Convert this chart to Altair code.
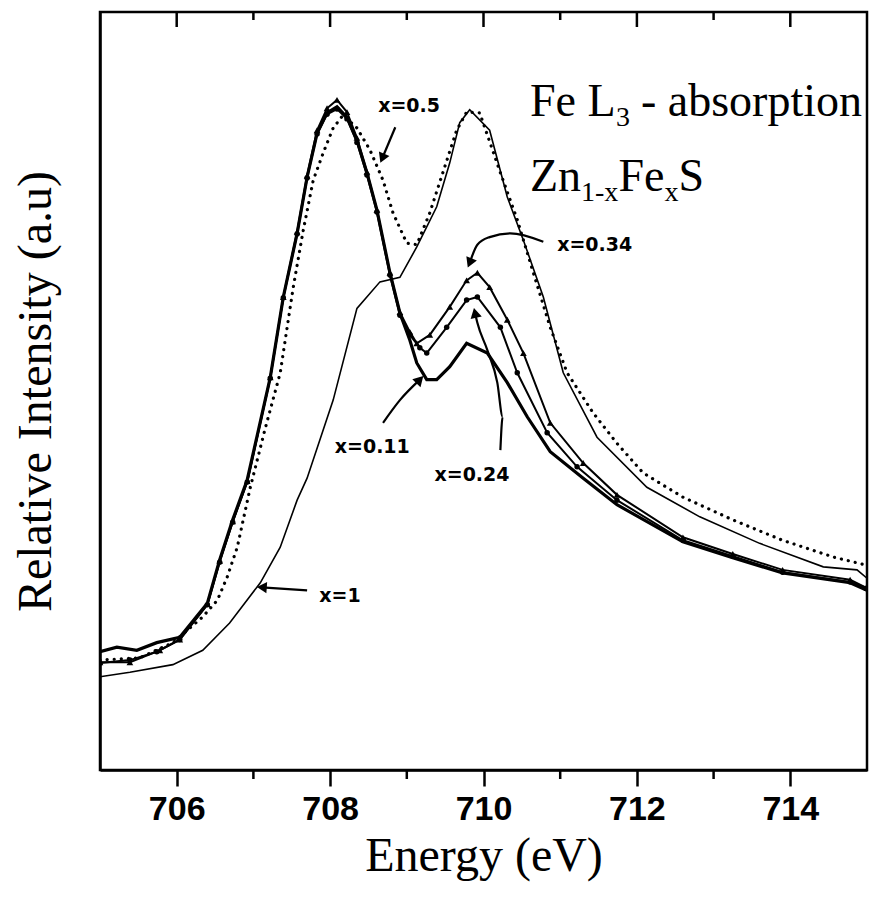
import math
import altair as alt
import pandas as pd

# ---------------- data ----------------
E_X1 = [705.0, 705.39, 705.95, 706.34, 706.69, 707.09, 707.35, 707.57, 707.70, 708.04,
        708.35, 708.65, 708.91, 709.13, 709.39, 709.56, 709.69, 709.82, 710.08, 710.31,
        710.52, 710.78, 711.04, 711.48, 712.13, 712.82, 713.60, 714.43, 714.87, 715.0]
I_X1 = [12.3, 12.9, 13.9, 15.8, 19.4, 24.7, 29.4, 35.6, 38.5, 48.8,
        60.9, 64.4, 65.0, 69.0, 74.3, 80.1, 85.4, 87.1, 84.4, 75.6,
        69.9, 62.4, 52.4, 43.9, 37.3, 33.4, 29.9, 26.8, 26.4, 25.3]

E_X05 = [705.0, 705.52, 705.95, 706.34, 706.53, 706.66, 706.79, 706.96, 707.15, 707.35,
         707.52, 707.65, 707.78, 707.91, 708.04, 708.17, 708.35, 708.52, 708.69, 708.82,
         709.00, 709.13, 709.30, 709.47, 709.65, 709.78, 709.95, 710.22, 710.44, 710.65,
         710.87, 711.09, 711.43, 711.74, 712.08, 712.60, 713.25, 713.90, 714.56, 715.0]
I_X05 = [14.5, 14.8, 16.8, 20.2, 22.4, 25.5, 29.4, 37.3, 44.9, 52.4,
         63.7, 71.2, 77.8, 81.4, 84.7, 86.4, 84.7, 81.8, 77.8, 73.5,
         69.5, 69.3, 73.5, 78.8, 84.4, 86.8, 86.7, 78.8, 72.6, 65.6,
         58.4, 52.4, 47.1, 43.1, 39.2, 36.0, 33.0, 30.3, 28.1, 27.0]

E_X011 = [705.0, 705.22, 705.48, 705.74, 706.04, 706.40, 706.56, 706.73, 706.92, 707.22,
          707.39, 707.57, 707.70, 707.83, 707.96, 708.09, 708.22, 708.35, 708.48, 708.61,
          708.78, 708.91, 709.04, 709.13, 709.26, 709.39, 709.56, 709.78, 710.05, 710.31,
          710.57, 710.87, 711.30, 711.74, 712.60, 713.25, 713.90, 714.78, 715.0]
I_X011 = [15.6, 16.2, 15.8, 16.8, 17.5, 22.0, 27.7, 33.0, 38.3, 51.8,
          62.4, 70.8, 78.2, 84.0, 86.7, 87.5, 86.1, 83.1, 78.8, 73.9,
          65.6, 60.3, 56.7, 53.7, 51.5, 51.5, 53.2, 56.3, 55.0, 51.1,
          46.6, 42.0, 38.5, 35.0, 30.1, 28.0, 26.0, 24.7, 23.7]

E_X024 = [705.0, 705.39, 705.74, 706.04, 706.40, 706.56, 706.73, 706.92, 707.22, 707.39,
          707.57, 707.70, 707.83, 707.96, 708.09, 708.22, 708.35, 708.48, 708.61, 708.78,
          708.91, 709.04, 709.17, 709.26, 709.52, 709.78, 709.92, 710.22, 710.44, 710.83,
          711.22, 711.74, 712.60, 713.25, 713.90, 714.78, 715.0]
I_X024 = [14.1, 14.5, 15.6, 17.2, 21.8, 27.4, 32.7, 38.0, 51.7, 62.3,
          70.7, 78.1, 83.9, 86.5, 87.2, 85.9, 82.8, 78.5, 73.6, 65.3,
          60.0, 57.4, 55.7, 55.0, 58.4, 62.0, 62.4, 58.4, 52.4, 44.5,
          40.0, 35.6, 30.3, 28.2, 26.1, 24.8, 24.0]

E_X034 = [705.0, 705.39, 705.78, 706.04, 706.40, 706.56, 706.73, 706.92, 707.22, 707.39,
          707.57, 707.70, 707.83, 707.96, 708.09, 708.22, 708.35, 708.48, 708.61, 708.78,
          708.91, 709.04, 709.13, 709.30, 709.56, 709.78, 709.92, 710.08, 710.31, 710.52,
          710.87, 711.30, 711.74, 712.60, 713.25, 713.90, 714.78, 715.0]
I_X034 = [14.2, 14.2, 15.8, 17.2, 21.9, 27.6, 32.8, 38.1, 51.8, 62.4,
          71.0, 78.4, 84.4, 87.3, 88.4, 86.8, 83.4, 78.9, 73.9, 65.6,
          60.4, 57.8, 56.3, 57.4, 61.1, 64.6, 65.6, 63.7, 59.4, 55.0,
          45.8, 40.5, 36.3, 30.7, 28.5, 26.4, 25.1, 24.0]

# labels of the curves
LABELS = ["x=0.5", "x=0.34", "x=0.11", "x=0.24", "x=1"]
LABEL_E = [709.03, 711.45, 708.55, 709.85, 708.13]
LABEL_I = [87.6, 69.3, 42.6, 38.9, 23.0]

# arrows (points along each arrow, last point = tip)
ARROWS = {
    "x=0.5": ([708.85, 708.68], [84.8, 80.7]),
    "x=0.34": ([710.78, 710.35, 710.08, 709.92, 709.82], [69.7, 70.8, 70.3, 69.3, 66.9]),
    "x=0.11": ([708.69, 708.91, 709.17], [45.8, 48.8, 51.5]),
    "x=0.24": ([710.22, 710.25, 710.18, 710.05, 709.92, 709.89], [42.2, 46.6, 51.1, 55.4, 59.0, 60.3]),
    "x=1": ([707.70, 707.11], [23.7, 24.1]),
}

MAJOR_TICKS = [706, 708, 710, 712, 714]
MINOR_TICKS = [707, 709, 711, 713]

# ---------------- layout ----------------
W, H = 767, 758
XMIN, XMAX = 705, 715
YMIN, YMAX = 0, 100
xs = alt.Scale(domain=[XMIN, XMAX], nice=False, zero=False)
ys = alt.Scale(domain=[YMIN, YMAX], nice=False, zero=False)
PX_PER_E = W / (XMAX - XMIN)
PX_PER_I = H / (YMAX - YMIN)


def curve(E, I):
    return pd.DataFrame({"E": E, "I": I, "o": list(range(len(E)))})


x_axis = alt.Axis(values=MAJOR_TICKS, format="d", tickSize=16, tickWidth=2.5,
                  domainWidth=2.5, domainColor="black", tickColor="black",
                  labelFont="Liberation Sans", labelFontWeight="bold", labelFontSize=34,
                  labelColor="black", labelPadding=6, grid=False,
                  title="Energy (eV)", titleFont="Liberation Serif", titleFontSize=48,
                  titleFontWeight="normal", titleColor="black",
                  titleBaseline="alphabetic", titleY=100)
y_axis = alt.Axis(ticks=False, labels=False, grid=False, domainWidth=2.5,
                  domainColor="black",
                  title="Relative Intensity (a.u)", titleFont="Liberation Serif",
                  titleFontSize=48, titleFontWeight="normal", titleColor="black",
                  titlePadding=40)

X = lambda: alt.X("E:Q", scale=xs, axis=x_axis)
Y = lambda: alt.Y("I:Q", scale=ys, axis=y_axis)

l_x1 = alt.Chart(curve(E_X1, I_X1)).mark_line(color="black", strokeWidth=1.6, clip=True).encode(
    x=X(), y=Y(), order="o:Q")
l_x05 = alt.Chart(curve(E_X05, I_X05)).mark_line(
    color="black", strokeWidth=3.2, strokeDash=[0.1, 7], strokeCap="round", clip=True).encode(
    x=X(), y=Y(), order="o:Q")
l_x011 = alt.Chart(curve(E_X011, I_X011)).mark_line(color="black", strokeWidth=3.2, clip=True).encode(
    x=X(), y=Y(), order="o:Q")
l_x024 = alt.Chart(curve(E_X024, I_X024)).mark_line(color="black", strokeWidth=2, clip=True).encode(
    x=X(), y=Y(), order="o:Q")
p_x024 = alt.Chart(curve(E_X024, I_X024)).mark_point(
    shape="circle", filled=True, color="black", size=30, opacity=1, clip=True).encode(x=X(), y=Y())
l_x034 = alt.Chart(curve(E_X034, I_X034)).mark_line(color="black", strokeWidth=2, clip=True).encode(
    x=X(), y=Y(), order="o:Q")
p_x034 = alt.Chart(curve(E_X034, I_X034)).mark_point(
    shape="triangle-up", filled=True, color="black", size=45, opacity=1, clip=True).encode(x=X(), y=Y())

# curve labels
lab_df = pd.DataFrame({"E": LABEL_E, "I": LABEL_I, "t": LABELS})
labels = alt.Chart(lab_df).mark_text(font="DejaVu Sans", fontWeight="bold", fontSize=19,
                                     color="black", align="center", baseline="middle").encode(
    x=X(), y=Y(), text="t:N")

# arrows
rows, heads = [], []
for name, (ae, ai) in ARROWS.items():
    for k, (e, i) in enumerate(zip(ae, ai)):
        rows.append({"E": e, "I": i, "a": name, "o": k})
    dx = (ae[-1] - ae[-2]) * PX_PER_E
    dy = -(ai[-1] - ai[-2]) * PX_PER_I
    ang = math.degrees(math.atan2(dx, -dy)) % 360
    heads.append({"E": ae[-1], "I": ai[-1], "ang": ang})
arrow_lines = alt.Chart(pd.DataFrame(rows)).mark_line(color="black", strokeWidth=2.2,
                                                       interpolate="monotone").encode(
    x=X(), y=Y(), detail="a:N", order="o:Q")
arrow_heads = alt.Chart(pd.DataFrame(heads)).mark_point(
    shape="triangle-up", filled=True, color="black", size=130, opacity=1).encode(
    x=X(), y=Y(), angle=alt.Angle("ang:Q", scale=None))

# panel titles with subscripts (anchor + pixel offsets)
FB, FS, SH = 46, 28, 10
anchors = [(710.606, 86.3), (710.606, 76.4)]
pieces = [  # (line, text, dx px, baseline shift px, size)
    (0, "Fe L", 0, 0, FB), (0, "3", 86, SH, FS), (0, "- absorption", 111, 0, FB),
    (1, "Zn", 0, 0, FB), (1, "1-x", 51, SH, FS), (1, "Fe", 88.5, 0, FB),
    (1, "x", 134.5, SH, FS), (1, "S", 148.5, 0, FB),
]
tt = []
for ln, txt, ddx, shift, fs in pieces:
    e0, i0 = anchors[ln]
    tt.append({"E": e0 + ddx / PX_PER_E, "I": i0 - shift / PX_PER_I, "t": txt, "fs": fs})
title_txt = alt.Chart(pd.DataFrame(tt)).mark_text(
    font="Liberation Serif", color="black", align="left", baseline="alphabetic").encode(
    x=X(), y=Y(), text="t:N", size=alt.Size("fs:Q", scale=None))

# top ticks (inward) and bottom minor ticks (outward)
top_major = alt.Chart(pd.DataFrame({"E": MAJOR_TICKS})).mark_rule(color="black", strokeWidth=2.5).encode(
    x=X(), y=alt.value(0), y2=alt.value(15))
top_minor = alt.Chart(pd.DataFrame({"E": MINOR_TICKS})).mark_rule(color="black", strokeWidth=2.5).encode(
    x=X(), y=alt.value(0), y2=alt.value(8))
bot_minor = alt.Chart(pd.DataFrame({"E": MINOR_TICKS})).mark_rule(color="black", strokeWidth=2.5).encode(
    x=X(), y=alt.value(H), y2=alt.value(H + 9))

chart = alt.layer(
    l_x1, l_x05, l_x011, l_x024, p_x024, l_x034, p_x034,
    arrow_lines, arrow_heads, labels, title_txt, top_major, top_minor, bot_minor,
).properties(
    width=W, height=H, autosize="none", background="white",
    padding={"left": 92, "top": 4, "right": 2, "bottom": 120},
).configure_view(stroke="black", strokeWidth=2.5)

chart.save("out.html", embed_options={"renderer": "svg", "actions": False})
